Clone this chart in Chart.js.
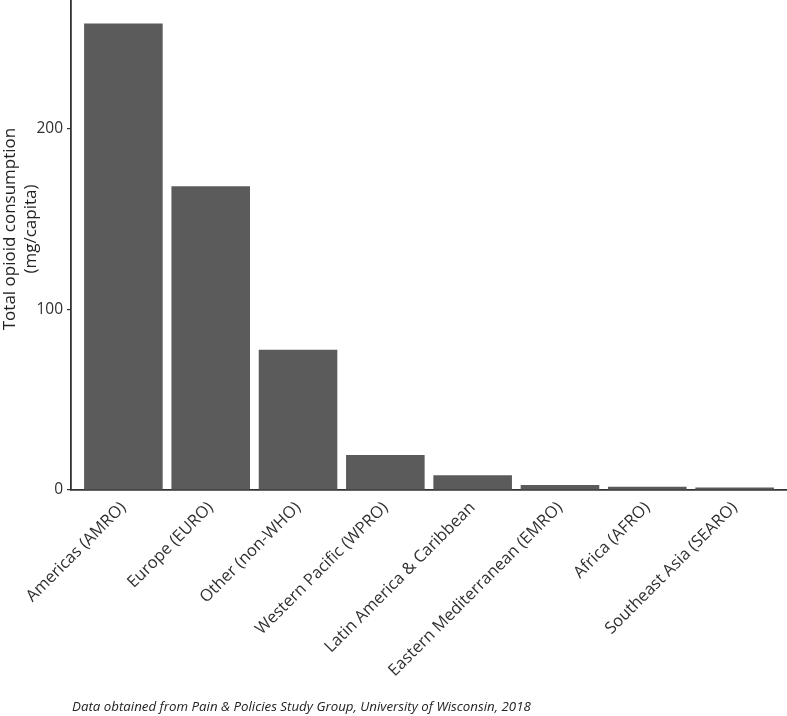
<!DOCTYPE html>
<html>
<head>
<meta charset="utf-8">
<script src="https://cdn.jsdelivr.net/npm/chart.js@4/dist/chart.umd.min.js"></script>
<style>
  html, body { margin: 0; padding: 0; background: #fff; }
  #wrap { width: 787px; height: 716px; position: relative; }
</style>
</head>
<body>
<div id="wrap"><canvas id="c" width="787" height="716"></canvas></div>
<script>
const categories = [
  "Americas (AMRO)",
  "Europe (EURO)",
  "Other (non-WHO)",
  "Western Pacific (WPRO)",
  "Latin America & Caribbean",
  "Eastern Mediterranean (EMRO)",
  "Africa (AFRO)",
  "Southeast Asia (SEARO)"
];
const consumption = [258, 168, 77.5, 19.4, 8.1, 2.8, 1.8, 1.4];
const yTicks = [0, 100, 200];
const yTitle = ["Total opioid consumption", "(mg/capita)"];
const caption = "Data obtained from Pain & Policies Study Group, University of Wisconsin, 2018";

const points = consumption.map((v, i) => ({ x: i, y: v }));
const FONT = '"Open Sans", "Noto Sans", sans-serif';

const textPlugin = {
  id: 'texts',
  afterDraw(chart) {
    const ctx = chart.ctx;
    const area = chart.chartArea;
    ctx.save();
    // caption
    ctx.font = 'italic 13.3px ' + FONT;
    ctx.fillStyle = '#222';
    ctx.textAlign = 'left';
    ctx.textBaseline = 'alphabetic';
    ctx.fillText(caption, area.left + 1, 711);
    // y axis title (two lines, rotated)
    ctx.font = '17px ' + FONT;
    ctx.fillStyle = '#222';
    ctx.textAlign = 'center';
    ctx.textBaseline = 'middle';
    ctx.translate(0, 229);
    ctx.rotate(-Math.PI / 2);
    ctx.fillText(yTitle[0], 0, 10);
    ctx.fillText(yTitle[1], 0, 31);
    ctx.restore();
  }
};

new Chart(document.getElementById('c'), {
  type: 'bar',
  data: {
    datasets: [{
      data: points,
      backgroundColor: '#5b5b5b',
      borderWidth: 0,
      categoryPercentage: 1.0,
      barPercentage: 0.9
    }]
  },
  options: {
    responsive: false,
    animation: false,
    layout: { padding: { left: 0, right: 0, top: 0, bottom: 30 } },
    plugins: {
      legend: { display: false },
      tooltip: { enabled: false }
    },
    scales: {
      x: {
        type: 'linear',
        offset: false,
        min: -0.6,
        max: 7.6,
        afterBuildTicks(scale) {
          scale.ticks = categories.map((_, i) => ({ value: i }));
        },
        afterFit(scale) {
          scale.height = 716 - 490 - 30;
          scale.paddingLeft = 0;
          scale.paddingRight = 0;
        },
        grid: {
          display: true,
          drawOnChartArea: false,
          drawTicks: false,
          tickLength: 4,
          color: '#333',
          lineWidth: 1.2
        },
        border: { display: true, color: '#333', width: 1.8 },
        ticks: {
          autoSkip: false,
          minRotation: 45,
          maxRotation: 45,
          padding: 8,
          color: '#303030',
          font: { family: FONT, size: 16.5 },
          callback: (v) => categories[v]
        }
      },
      y: {
        min: 0,
        max: 271,
        afterBuildTicks(scale) {
          scale.ticks = yTicks.map(v => ({ value: v }));
        },
        afterFit(scale) {
          scale.width = 71;
          scale.paddingTop = 0;
          scale.paddingBottom = 0;
        },
        grid: {
          display: true,
          drawOnChartArea: false,
          drawTicks: true,
          tickLength: 4,
          color: '#333',
          lineWidth: 1.2
        },
        border: { display: true, color: '#333', width: 1.8 },
        ticks: {
          padding: 4,
          color: '#303030',
          font: { family: FONT, size: 15.5 }
        },
        title: { display: false }
      }
    }
  },
  plugins: [textPlugin]
});
</script>
</body>
</html>
